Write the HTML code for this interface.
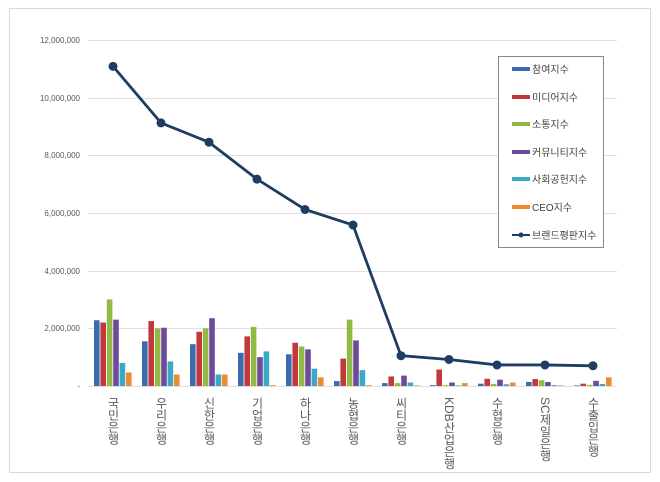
<!DOCTYPE html>
<html><head><meta charset="utf-8"><style>
html,body{margin:0;padding:0;background:#fff;}
svg{display:block;font-family:"Liberation Sans","Noto Sans CJK KR",sans-serif;}
.yl{font-size:8px;fill:#595959;text-anchor:end;}
.xl{font-size:12px;fill:#595959;writing-mode:tb;glyph-orientation-vertical:0;}
.lg{font-size:10px;fill:#404040;}
</style></head><body>
<svg id="s" width="660" height="482" viewBox="0 0 660 482">
<rect x="9.5" y="8.5" width="641" height="464" fill="#fff" stroke="#d9d9d9"/>
<g stroke="#e0e0e0" stroke-width="1">
<line x1="88" x2="617" y1="40.5" y2="40.5"/><line x1="88" x2="617" y1="98.5" y2="98.5"/>
<line x1="88" x2="617" y1="155.5" y2="155.5"/><line x1="88" x2="617" y1="213.5" y2="213.5"/>
<line x1="88" x2="617" y1="271.5" y2="271.5"/><line x1="88" x2="617" y1="328.5" y2="328.5"/>
<line x1="88" x2="617" y1="386.5" y2="386.5"/>
</g>
<g class="yl">
<text x="80" y="43">12,000,000</text><text x="80" y="101">10,000,000</text>
<text x="80" y="158">8,000,000</text><text x="80" y="216">6,000,000</text>
<text x="80" y="274">4,000,000</text><text x="80" y="331">2,000,000</text>
<text x="80" y="389">-</text>
</g>
<g id="bars"></g>
<polyline id="ln" fill="none" stroke="#1f3d63" stroke-width="2.8"/>
<g id="dots" fill="#1f3d63"></g>
<g class="xl">
<text x="113" y="397">국민은행</text><text x="161" y="397">우리은행</text>
<text x="209" y="397">신한은행</text><text x="257" y="397">기업은행</text>
<text x="305" y="397">하나은행</text><text x="353" y="397">농협은행</text>
<text x="401" y="397">씨티은행</text><text x="449" y="397">KDB산업은행</text>
<text x="497" y="397">수협은행</text><text x="545" y="397">SC제일은행</text>
<text x="593" y="397">수출입은행</text>
</g>
<rect x="498.5" y="56.5" width="105" height="191" fill="#fff" stroke="#888"/>
<g>
<rect x="512" y="67" width="18" height="4" fill="#3b6bb0"/><text class="lg" x="532" y="73">참여지수</text>
<rect x="512" y="95" width="18" height="4" fill="#c0393b"/><text class="lg" x="532" y="101">미디어지수</text>
<rect x="512" y="122" width="18" height="4" fill="#93b945"/><text class="lg" x="532" y="128">소통지수</text>
<rect x="512" y="150" width="18" height="4" fill="#6e4a9a"/><text class="lg" x="532" y="156">커뮤니티지수</text>
<rect x="512" y="177" width="18" height="4" fill="#3aa9c6"/><text class="lg" x="532" y="183">사회공헌지수</text>
<rect x="512" y="205" width="18" height="4" fill="#ee8b2e"/><text class="lg" x="532" y="211">CEO지수</text>
<line x1="512" x2="530" y1="235" y2="235" stroke="#1f3d63" stroke-width="2"/><circle cx="521" cy="235" r="2.5" fill="#1f3d63"/><text class="lg" x="532" y="239">브랜드평판지수</text>
</g>
</svg>
<script>
var d=[[2.28,2.2,3.0,2.3,0.8,0.47],[1.55,2.25,2.0,2.02,0.85,0.4],[1.45,1.88,2.0,2.35,0.4,0.4],[1.15,1.72,2.05,1.0,1.2,0.03],[1.1,1.5,1.37,1.27,0.6,0.3],[0.17,0.95,2.3,1.58,0.55,0.03],[0.1,0.33,0.1,0.36,0.12,0.02],[0.03,0.57,0.03,0.12,0.02,0.1],[0.08,0.25,0.07,0.22,0.06,0.12],[0.14,0.24,0.2,0.14,0.03,0.02],[0.02,0.08,0.04,0.18,0.07,0.3]];
var L=[11.08,9.12,8.45,7.17,6.12,5.58,1.05,0.92,0.73,0.73,0.7];
var c=["#3b6bb0","#c0393b","#93b945","#6e4a9a","#3aa9c6","#ee8b2e"];
var y0=386,k=28.85,h="",p=[],dt="";
for(var i=0;i<11;i++){var cx=113+48*i;
for(var j=0;j<6;j++){var v=d[i][j]*k;h+='<rect x="'+(cx-19+j*6.4)+'" y="'+(y0-v)+'" width="5.6" height="'+v+'" fill="'+c[j]+'"/>';}
var ly=y0-L[i]*k;p.push(cx+","+ly);dt+='<circle cx="'+cx+'" cy="'+ly+'" r="4.5"/>';}
document.getElementById("bars").innerHTML=h;
document.getElementById("ln").setAttribute("points",p.join(" "));
document.getElementById("dots").innerHTML=dt;
</script>
</body></html>
